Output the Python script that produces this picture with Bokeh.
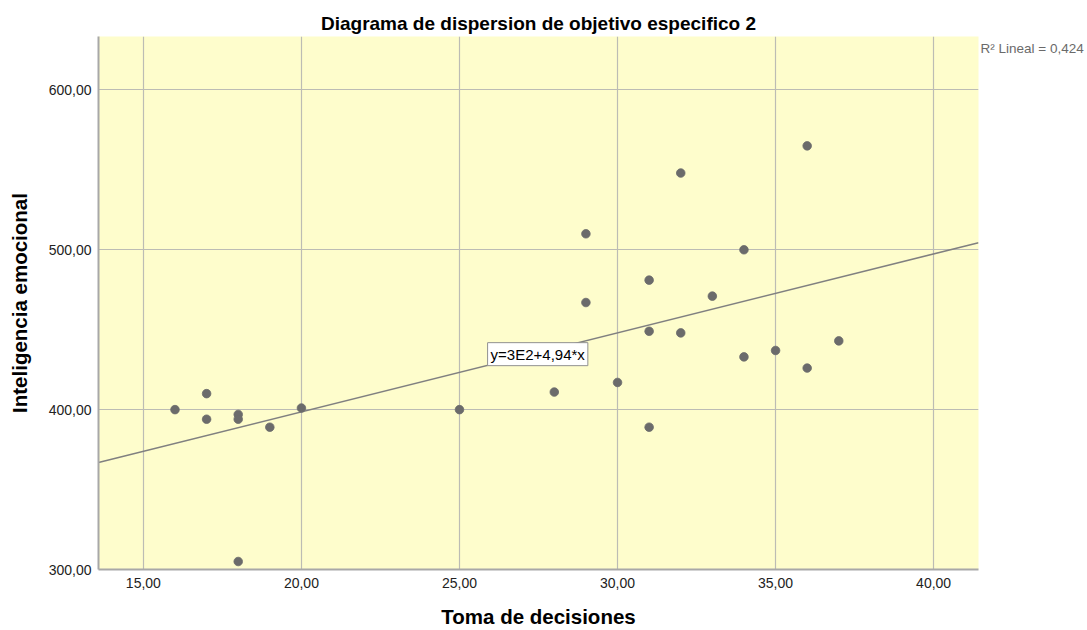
from bokeh.plotting import figure
from bokeh.models import Range1d, FixedTicker, Label, LinearAxis
from bokeh.embed import file_html
from bokeh.resources import INLINE

# Data
toma = [16, 17, 17, 18, 18, 18, 19, 20, 25, 28, 29, 29, 30, 31, 31, 31, 32, 32, 33, 34, 34, 35, 36, 36, 37]
inteligencia = [400, 410, 394, 397, 394, 305, 389, 401, 400, 411, 510, 467, 417, 481, 449, 389, 548, 448, 471, 500, 433, 437, 565, 426, 443]

intercept = 299.8
slope = 4.94
r2_text = "R² Lineal = 0,424"
eq_text = "y=3E2+4,94*x"

x_ticks = [15, 20, 25, 30, 35, 40]
x_tick_labels = ["15,00", "20,00", "25,00", "30,00", "35,00", "40,00"]
y_ticks = [300, 400, 500, 600]
y_tick_labels = ["300,00", "400,00", "500,00", "600,00"]

FONT = "Liberation Sans"
x0, x1 = 13.58, 41.42
y0, y1 = 300, 633.4

p = figure(width=1087, height=630, output_backend="svg", toolbar_location=None,
           x_range=Range1d(x0, x1), y_range=Range1d(y0, y1),
           min_border_left=98, min_border_right=109, min_border_top=36, min_border_bottom=61,
           title="Diagrama de dispersion de objetivo especifico 2")

p.background_fill_color = "#FEFDCC"
p.border_fill_color = "white"
p.outline_line_color = None

p.title.text_font = FONT
p.title.text_font_size = "19px"
p.title.text_font_style = "bold"
p.title.align = "center"
p.title.text_color = "#000000"
p.title.standoff = 6

p.xaxis.ticker = FixedTicker(ticks=x_ticks)
p.yaxis.ticker = FixedTicker(ticks=y_ticks)
p.xaxis.major_label_overrides = dict(zip(x_ticks, x_tick_labels))
p.yaxis.major_label_overrides = dict(zip(y_ticks, y_tick_labels))

for ax in (p.xaxis[0], p.yaxis[0]):
    ax.major_tick_out = 0
    ax.major_tick_in = 0
    ax.minor_tick_out = 0
    ax.minor_tick_in = 0
    ax.axis_line_color = "#a8a8a8"
    ax.axis_line_width = 2
    ax.major_label_text_font = FONT
    ax.major_label_text_font_size = "14px"
    ax.major_label_text_color = "#222222"
    ax.axis_label_text_font = FONT
    ax.axis_label_text_font_size = "20.5px"
    ax.axis_label_text_font_style = "bold"
    ax.axis_label_text_color = "#000000"

p.xaxis[0].axis_label = "Toma de decisiones"
p.yaxis[0].axis_label = "Inteligencia emocional"
p.xaxis[0].major_label_standoff = 8
p.yaxis[0].major_label_standoff = 7
p.xaxis[0].axis_label_standoff = 14
p.yaxis[0].axis_label_standoff = 15

p.grid.grid_line_color = "#bcbcb4"
p.grid.grid_line_width = 1.2
p.xgrid.ticker = FixedTicker(ticks=x_ticks)
p.ygrid.ticker = FixedTicker(ticks=y_ticks)

# R² annotation as a right-hand axis label (outside the plotting frame)
r2_y = 626.2
r2_axis = LinearAxis(ticker=FixedTicker(ticks=[r2_y]),
                     major_label_overrides={r2_y: r2_text})
r2_axis.axis_line_color = None
r2_axis.major_tick_out = 0
r2_axis.major_tick_in = 0
r2_axis.minor_tick_out = 0
r2_axis.minor_tick_in = 0
r2_axis.major_label_standoff = 2
r2_axis.major_label_text_font = FONT
r2_axis.major_label_text_font_size = "13.5px"
r2_axis.major_label_text_color = "#6a6a6a"
p.add_layout(r2_axis, "right")

# regression line
p.line([x0, x1], [intercept + slope * x0, intercept + slope * x1],
       line_color="#808080", line_width=1.6)

p.scatter(toma, inteligencia, size=8.6, fill_color="#6B6B6B", line_color="#6B6B6B", line_width=0.8)

eq = Label(x=25.89, y=427.5, text=eq_text, text_font=FONT, text_font_size="15px",
           text_color="#000000", background_fill_color="white",
           border_line_color="#909090", border_line_width=1, padding=3)
p.add_layout(eq)

open("out.html", "w").write(file_html(p, INLINE))
